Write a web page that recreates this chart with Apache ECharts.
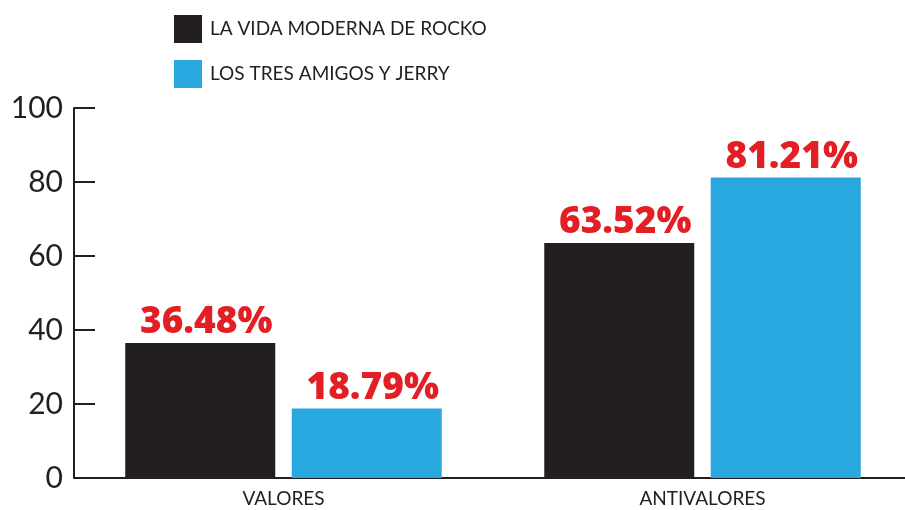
<!DOCTYPE html>
<html>
<head>
<meta charset="utf-8">
<script src="https://cdn.jsdelivr.net/npm/echarts@6/dist/echarts.min.js"></script>
<style>
  html, body { margin: 0; padding: 0; background: #fff; }
  #main { width: 905px; height: 510px; }
</style>
</head>
<body>
<div id="main"></div>
<script>
// datos
var categorias = ['VALORES', 'ANTIVALORES'];
var rocko = [36.48, 63.52];
var amigos = [18.79, 81.21];
var yTicks = [0, 20, 40, 60, 80, 100];

var negro = '#231f20';
var azul = '#29a8e0';
var rojo = '#e31e24';

var myChart = echarts.init(document.getElementById('main'));

var etiqueta = {
	show: true,
	position: 'top',
	distance: 2,
	offset: [6, 0],
	color: rojo,
	fontFamily: 'Open Sans',
	fontWeight: 800,
	fontSize: 37,
	formatter: function(p) {
		return p.value.toFixed(2) + '%';
	}
};

myChart.setOption({
	animation: false,
	legend: {
		orient: 'vertical',
		left: 169,
		top: 10,
		itemWidth: 28,
		itemHeight: 28,
		itemGap: 17,
		icon: 'rect',
		textStyle: {
			color: negro,
			fontFamily: 'Lato',
			fontSize: 19,
			padding: [0, 0, 0, 3]
		},
		data: ['LA VIDA MODERNA DE ROCKO', 'LOS TRES AMIGOS Y JERRY']
	},
	grid: {
		left: 74,
		top: 108,
		width: 838,
		height: 370,
		containLabel: false,
		outerBoundsMode: 'none'
	},
	xAxis: {
		type: 'category',
		data: categorias,
		axisLine: { lineStyle: { color: negro, width: 2 } },
		axisTick: { inside: true, length: 8, lineStyle: { color: negro, width: 2 } },
		axisLabel: {
			color: negro,
			fontFamily: 'Lato',
			fontSize: 19,
			margin: 11
		}
	},
	yAxis: {
		type: 'value',
		min: yTicks[0],
		max: yTicks[yTicks.length - 1],
		interval: 20,
		splitLine: { show: false },
		axisLine: { show: true, lineStyle: { color: negro, width: 2 } },
		axisTick: { show: true, inside: true, length: 21, lineStyle: { color: negro, width: 2 } },
		axisLabel: {
			color: negro,
			fontFamily: 'Lato',
			fontSize: 30,
			margin: 11
		}
	},
	series: [{
		name: 'LA VIDA MODERNA DE ROCKO',
		type: 'bar',
		data: rocko,
		barWidth: 150,
		barGap: '11%',
		itemStyle: { color: negro },
		label: etiqueta
	}, {
		name: 'LOS TRES AMIGOS Y JERRY',
		type: 'bar',
		data: amigos,
		barWidth: 150,
		barGap: '11%',
		itemStyle: { color: azul },
		label: etiqueta
	}]
});
</script>
</body>
</html>
